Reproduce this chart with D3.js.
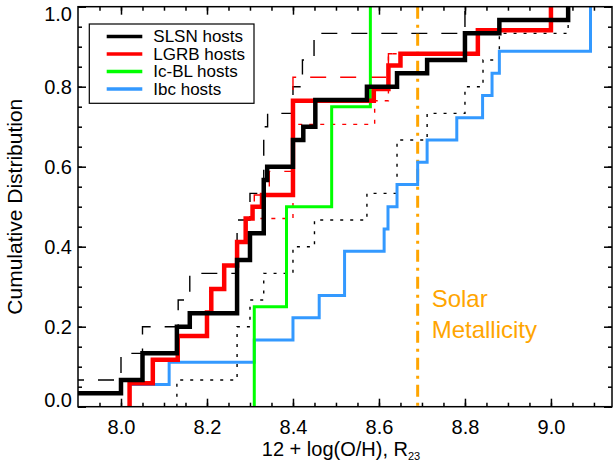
<!DOCTYPE html>
<html>
<head>
<meta charset="utf-8">
<script src="https://cdn.jsdelivr.net/npm/d3@7"></script>
<style>
  body { margin: 0; background: #fff; }
  svg { display: block; font-family: "Liberation Sans", Arial, Helvetica, sans-serif; }
  .axis path { display: none; }
  .axis line { stroke: #000; stroke-width: 1.5; }
  .axis text { fill: #000; font-size: 20px; }
</style>
</head>
<body>
<div class="cdf-plot"></div>
<script>
//DATA: 12 + log(O/H) of each host, repeated values are ties
const slsnHosts = [7.85, 8.00, 8.05, 8.05, 8.13, 8.13, 8.16, 8.27, 8.27, 8.27, 8.27, 8.30, 8.30,
  8.332, 8.332, 8.332, 8.332, 8.34, 8.40, 8.40, 8.424, 8.452, 8.452, 8.572, 8.642, 8.712,
  8.80, 8.80, 8.88, 9.04];
const lgrbHosts = [8.02, 8.02, 8.074, 8.074, 8.132, 8.132, 8.20, 8.20, 8.21, 8.21, 8.24, 8.24,
  8.27, 8.27, 8.29, 8.29, 8.306, 8.328, 8.40, 8.40, 8.40, 8.40, 8.40, 8.40, 8.40, 8.40,
  8.588, 8.622, 8.622, 8.65, 8.83, 8.83, 9.00, 9.00];
const icblHosts = [8.31, 8.385, 8.49, 8.58];
const ibcHosts = [8.02, 8.112, 8.31, 8.40, 8.461, 8.52, 8.52, 8.612, 8.621, 8.642, 8.69, 8.712,
  8.781, 8.841, 8.863, 8.88, 9.092, 9.092];
const slsnDashed = [7.85, 7.85, 8.00, 8.00, 8.05, 8.05, 8.133, 8.133, 8.16, 8.16, 8.27, 8.27,
  8.27, 8.27, 8.30, 8.30, 8.332, 8.332, 8.332, 8.332, 8.332, 8.341, 8.40, 8.40, 8.422, 8.422,
  8.449, 8.449, 8.80, 8.80];
const slsnDotted = [8.13, 8.13, 8.27, 8.27, 8.27, 8.27, 8.30, 8.30, 8.332, 8.332, 8.40, 8.40,
  8.45, 8.45, 8.572, 8.572, 8.642, 8.642, 8.642, 8.642, 8.712, 8.712, 8.80, 8.80, 8.842, 8.842,
  8.88, 8.88, 9.04, 9.04];
const lgrbDashed = [8.02, 8.02, 8.074, 8.074, 8.132, 8.132, 8.20, 8.20, 8.21, 8.21, 8.24, 8.24,
  8.27, 8.27, 8.29, 8.29, 8.306, 8.31, 8.345, 8.345, 8.40, 8.40, 8.40, 8.40, 8.40, 8.40, 8.40,
  8.40, 8.622, 8.622, 8.83, 8.83, 9.00, 9.00];
const lgrbDotted = [8.02, 8.02, 8.074, 8.074, 8.132, 8.132, 8.20, 8.20, 8.21, 8.21, 8.24, 8.24,
  8.27, 8.27, 8.29, 8.29, 8.40, 8.40, 8.40, 8.40, 8.40, 8.40, 8.40, 8.40, 8.59, 8.59,
  8.622, 8.622, 8.622, 8.622, 8.83, 8.83, 9.00, 9.00];
const solarValue = 8.69;

const legendLabels = ["SLSN hosts", "LGRB hosts", "Ic-BL hosts", "Ibc hosts"];
const legendColors = ["#000000", "#ff0000", "#00ff00", "#3399ff"];
const xTicks = [8.0, 8.2, 8.4, 8.6, 8.8, 9.0];
const yTicks = [0.0, 0.2, 0.4, 0.6, 0.8, 1.0];

//CHART INIT
let outerWidth = 613;
let outerHeight = 468;
let margin = {top: 6.7, right: 1, bottom: 61.3, left: 78};
let width = outerWidth - margin.left - margin.right, height = outerHeight - margin.top - margin.bottom;

let svg = d3.select('.cdf-plot').append('svg')
    .attr('width', outerWidth)
    .attr('height', outerHeight)
    .append('g')
    .attr('transform', `translate(${margin.left},${margin.top})`);

const xScale = d3.scaleLinear()
    .domain([7.9, 9.142])
    .range([0, width]);

const yScale = d3.scaleLinear()
    .domain([0, 1])
    .range([height, 0]);

const xMinor = d3.range(7.95, 9.15, 0.05).map(v => +v.toFixed(2));
const yMinor = d3.range(0, 1.001, 0.05).map(v => +v.toFixed(2));

svg.append('clipPath').attr('id', 'plot-clip')
    .append('rect').attr('width', width).attr('height', height);

//AXES (ticks point inwards on all four sides)
svg.append('g').attr('class', 'axis')
    .attr('transform', `translate(0,${height})`)
    .call(d3.axisBottom(xScale).tickValues(xTicks).tickSize(-8).tickPadding(13.5).tickFormat(d3.format('.1f')));
svg.append('g').attr('class', 'axis')
    .attr('transform', `translate(0,${height})`)
    .call(d3.axisBottom(xScale).tickValues(xMinor).tickSize(-4).tickFormat(''));
svg.append('g').attr('class', 'axis')
    .call(d3.axisTop(xScale).tickValues(xTicks).tickSize(-8).tickFormat(''));
svg.append('g').attr('class', 'axis')
    .call(d3.axisTop(xScale).tickValues(xMinor).tickSize(-4).tickFormat(''));

let yAxisG = svg.append('g').attr('class', 'axis')
    .call(d3.axisLeft(yScale).tickValues(yTicks).tickSize(-8).tickPadding(6).tickFormat(d3.format('.1f')));
svg.append('g').attr('class', 'axis')
    .call(d3.axisLeft(yScale).tickValues(yMinor).tickSize(-4).tickFormat(''));
svg.append('g').attr('class', 'axis')
    .attr('transform', `translate(${width},0)`)
    .call(d3.axisRight(yScale).tickValues(yTicks).tickSize(-8).tickFormat(''));
svg.append('g').attr('class', 'axis')
    .attr('transform', `translate(${width},0)`)
    .call(d3.axisRight(yScale).tickValues(yMinor).tickSize(-4).tickFormat(''));

// end labels are pulled inside the frame like the original
yAxisG.selectAll('text')
    .attr('dy', d => d === 0 ? '0.0em' : (d === 1 ? '0.7em' : '0.32em'));

//CUMULATIVE STEP LINES
function cdfPoints(values) {
    let sorted = values.slice().sort(d3.ascending);
    let n = sorted.length;
    let x0 = xScale.domain()[0];
    let count = sorted.filter(v => v < x0).length;
    let pts = [];
    if (count > 0) pts.push([x0, count / n]);
    let counts = d3.rollups(sorted.filter(v => v >= x0), g => g.length, v => v);
    counts.forEach(([v, k]) => {
        pts.push([v, count / n]);
        count += k;
        pts.push([v, count / n]);
    });
    return pts;
}

let line = d3.line()
    .x(d => xScale(d[0]))
    .y(d => yScale(d[1]));

let plot = svg.append('g').attr('clip-path', 'url(#plot-clip)');

function drawCdf(values, color, w, dash, offset) {
    plot.append('path')
        .datum(cdfPoints(values))
        .attr('fill', 'none')
        .attr('stroke', color)
        .attr('stroke-width', w)
        .attr('stroke-linejoin', 'miter')
        .attr('stroke-dasharray', dash || null)
        .attr('stroke-dashoffset', offset || 0)
        .attr('d', line);
}

drawCdf(slsnDotted, '#000', 1.4, '3,7');
drawCdf(lgrbDotted, '#ff0000', 1.4, '4,7');
drawCdf(slsnDashed, '#000', 1.4, '16,14', 10);
drawCdf(lgrbDashed, '#ff0000', 1.4, '16,14');

// solar metallicity
plot.append('line')
    .attr('x1', xScale(solarValue)).attr('x2', xScale(solarValue))
    .attr('y1', 0).attr('y2', height)
    .attr('stroke', '#ffa500')
    .attr('stroke-width', 3)
    .attr('stroke-dasharray', '12,6,3,6');

drawCdf(ibcHosts, '#3399ff', 3);
drawCdf(icblHosts, '#00ff00', 3);
drawCdf(lgrbHosts, '#ff0000', 4.5);
drawCdf(slsnHosts, '#000', 4.5);

svg.append('rect')
    .attr('width', width).attr('height', height)
    .attr('fill', 'none').attr('stroke', '#000').attr('stroke-width', 1.5);

//TEXT
svg.append('text')
    .attr('x', xScale(solarValue) + 14).attr('y', 300.5)
    .attr('fill', '#ffa500').attr('font-size', 24)
    .text('Solar');
svg.append('text')
    .attr('x', xScale(solarValue) + 14).attr('y', 331)
    .attr('fill', '#ffa500').attr('font-size', 24)
    .text('Metallicity');

let xLabel = svg.append('text')
    .attr('x', width / 2 - 4).attr('y', height + 49.5)
    .attr('text-anchor', 'middle').attr('font-size', 20)
    .text('12 + log(O/H), R');
xLabel.append('tspan').attr('font-size', 11).attr('dy', 4).text('23');

svg.append('text')
    .attr('transform', `translate(${-56},${height / 2}) rotate(-90)`)
    .attr('text-anchor', 'middle').attr('font-size', 21)
    .text('Cumulative Distribution');

//LEGEND
let legend = svg.append('g').attr('transform', 'translate(11.3,17.3)');
legend.append('rect')
    .attr('width', 164.7).attr('height', 79.3)
    .attr('fill', '#fff').attr('stroke', '#000').attr('stroke-width', 1.2);
legendLabels.forEach((label, i) => {
    let yy = 12.4 + i * 17.5;
    legend.append('line')
        .attr('x1', 17.4).attr('x2', 53)
        .attr('y1', yy).attr('y2', yy)
        .attr('stroke', legendColors[i]).attr('stroke-width', 3.5);
    legend.append('text')
        .attr('x', 64).attr('y', yy + 6)
        .attr('font-size', 17)
        .text(label);
});
</script>
</body>
</html>
